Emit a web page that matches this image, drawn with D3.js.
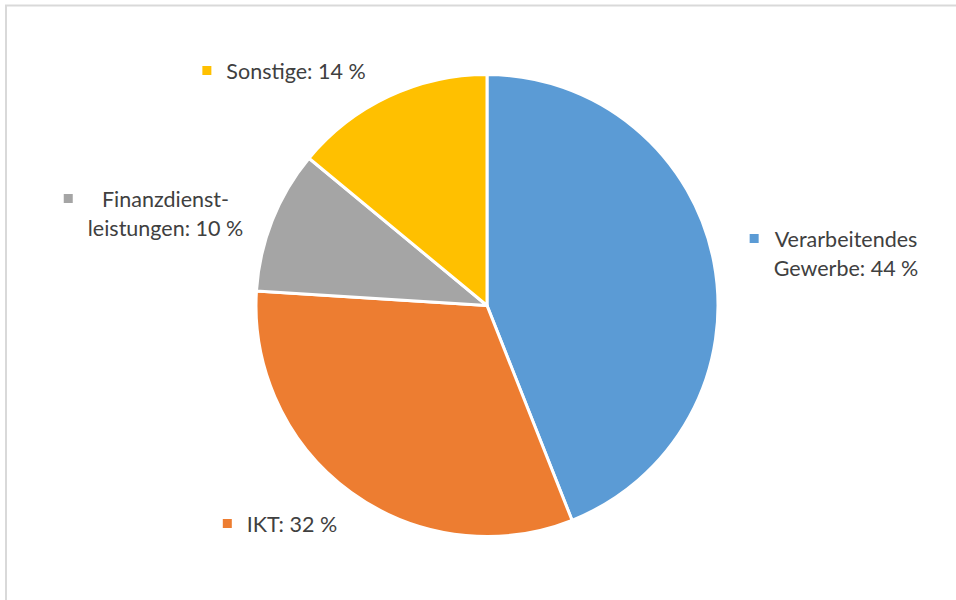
<!DOCTYPE html>
<html>
<head>
<meta charset="utf-8">
<script src="https://cdn.jsdelivr.net/npm/d3@7"></script>
<style>
  html, body { margin: 0; padding: 0; background: #fff; }
  svg { display: block; }
</style>
</head>
<body>
<svg id="chart" width="956" height="600"></svg>
<script>
// Sector shares (percent), clockwise from 12 o'clock
const categories = ["Verarbeitendes Gewerbe", "IKT", "Finanzdienstleistungen", "Sonstige"];
const values = [44, 32, 10, 14];
const colors = ["#5B9BD5", "#ED7D31", "#A5A5A5", "#FFC000"];
// Label text lines (with manual hyphenation)
const labelLines = [
  ["Verarbeitendes", "Gewerbe: 44 %"],
  ["IKT: 32 %"],
  ["Finanzdienst-", "leistungen: 10 %"],
  ["Sonstige: 14 %"]
];
// Label block placement: centre x of the text block and first baseline y
const labelPos = [
  { cx: 846, y: 247 },
  { cx: 292, y: 532 },
  { cx: 165.5, y: 207 },
  { cx: 296, y: 79 }
];

const svg = d3.select("#chart");
const cx = 487, cy = 305.5, R = 231;

// Chart area frame (only top and left edges fall inside the view)
svg.append("rect")
  .attr("x", 6).attr("y", 5.5)
  .attr("width", 980).attr("height", 640)
  .attr("fill", "none")
  .attr("stroke", "#d9d9d9")
  .attr("stroke-width", 2);

const data = categories.map((c, i) => ({ name: c, value: values[i], color: colors[i], lines: labelLines[i], pos: labelPos[i] }));

const pie = d3.pie().value(d => d.value).sort(null);
const arc = d3.arc().innerRadius(0).outerRadius(R);

const g = svg.append("g").attr("transform", `translate(${cx},${cy})`);
g.selectAll("path")
  .data(pie(data))
  .join("path")
  .attr("d", arc)
  .attr("fill", d => d.data.color)
  .attr("stroke", "#ffffff")
  .attr("stroke-width", 3)
  .attr("stroke-linejoin", "round");

// Data labels with a small colour key to the left
const lineH = 28.5;
const labels = svg.append("g")
  .attr("font-family", "Lato, 'Open Sans', sans-serif")
  .attr("font-size", 21.5)
  .attr("fill", "#404040");

data.forEach(d => {
  const t = labels.append("text")
    .attr("text-anchor", "middle");
  d.lines.forEach((ln, j) => {
    t.append("tspan")
      .attr("x", d.pos.cx)
      .attr("y", d.pos.y + j * lineH)
      .text(ln);
  });
  const widths = t.selectAll("tspan").nodes().map(n => n.getComputedTextLength());
  const left = d.pos.cx - d3.max(widths) / 2;
  labels.append("rect")
    .attr("x", left - 15 - 9)
    .attr("y", d.pos.y - 13)
    .attr("width", 9)
    .attr("height", 9)
    .attr("fill", d.color);
});
</script>
</body>
</html>
